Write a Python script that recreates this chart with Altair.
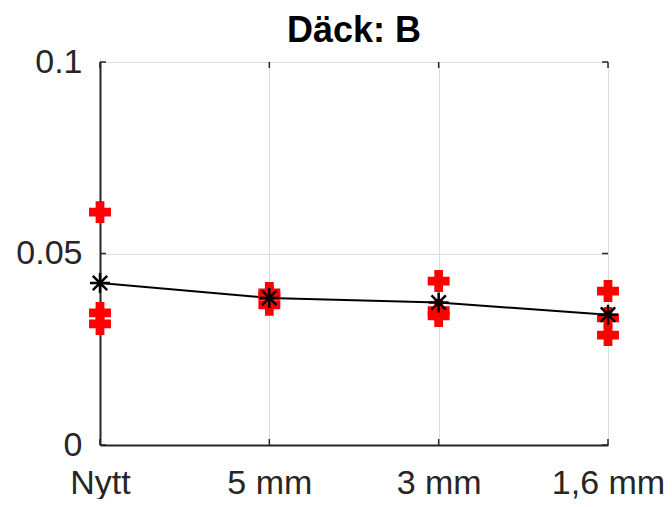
import altair as alt
import pandas as pd

categories = ["Nytt", "5 mm", "3 mm", "1,6 mm"]
cat_index = [1, 2, 3, 4]

# individual measurements (red pluses), three per category
values_nytt = [0.0608, 0.0345, 0.0316]
values_5mm = [0.0397, 0.0389, 0.0366]
values_3mm = [0.0428, 0.0351, 0.0337]
values_16mm = [0.0402, 0.0332, 0.0287]

y_ticks = [0, 0.05, 0.1]

rows = []
for idx, vals in zip(cat_index, [values_nytt, values_5mm, values_3mm, values_16mm]):
    for v in vals:
        rows.append({"x": idx, "y": v})
df = pd.DataFrame(rows)

W, H = 508, 383
FONT = "Liberation Sans"

label_expr = "datum.value == 1 ? 'Nytt' : datum.value == 2 ? '5 mm' : datum.value == 3 ? '3 mm' : '1,6 mm'"

x_scale = alt.Scale(domain=[1, 4], nice=False, zero=False)
y_scale = alt.Scale(domain=[0, 0.1], nice=False)

x_axis = alt.Axis(values=cat_index, labelExpr=label_expr, title=None, grid=True,
                  gridColor="#dedede", gridWidth=1, ticks=False, labelPadding=21,
                  labelFontSize=34, labelFont=FONT, labelColor="#262626",
                  domainColor="#262626", domainWidth=2, labelFlush=False)
y_axis = alt.Axis(values=y_ticks, format="~g", title=None, grid=True,
                  gridColor="#dedede", gridWidth=1, ticks=False, labelPadding=18,
                  labelFontSize=34, labelFont=FONT, labelColor="#262626",
                  domainColor="#262626", domainWidth=2, labelFlush=False)

base = alt.Chart(df)

points = base.mark_point(shape="cross", filled=True, color="#ff0000", size=480, opacity=1).encode(
    x=alt.X("x:Q", scale=x_scale, axis=x_axis),
    y=alt.Y("y:Q", scale=y_scale, axis=y_axis),
)

means = base.transform_aggregate(m="mean(y)", groupby=["x"])

line = means.mark_line(color="black", strokeWidth=2).encode(
    x=alt.X("x:Q", scale=x_scale),
    y=alt.Y("m:Q", scale=y_scale),
)

asterisk = "M-1,0L1,0M0,-1L0,1M-0.72,-0.72L0.72,0.72M-0.72,0.72L0.72,-0.72"
stars = means.mark_point(shape=asterisk, filled=False, color="black", strokeWidth=2.5,
                         size=400, opacity=1).encode(
    x=alt.X("x:Q", scale=x_scale),
    y=alt.Y("m:Q", scale=y_scale),
)

# inward tick marks like the reference
ytick_df = pd.DataFrame({"t": y_ticks})
xtick_df = pd.DataFrame({"t": cat_index})
yt_left = alt.Chart(ytick_df).mark_rule(color="#262626", strokeWidth=1.5).encode(
    y=alt.Y("t:Q", scale=y_scale), x=alt.value(0), x2=alt.value(6))
yt_right = alt.Chart(ytick_df).mark_rule(color="#262626", strokeWidth=1.5).encode(
    y=alt.Y("t:Q", scale=y_scale), x=alt.value(W - 6), x2=alt.value(W))
xt_bottom = alt.Chart(xtick_df).mark_rule(color="#262626", strokeWidth=1.5).encode(
    x=alt.X("t:Q", scale=x_scale), y=alt.value(H), y2=alt.value(H - 6))
xt_top = alt.Chart(xtick_df).mark_rule(color="#262626", strokeWidth=1.5).encode(
    x=alt.X("t:Q", scale=x_scale), y=alt.value(0), y2=alt.value(6))

chart = alt.layer(yt_left, yt_right, xt_bottom, xt_top, line, points, stars).properties(
    width=W, height=H,
    title=alt.TitleParams("Däck: B", fontSize=36, font=FONT, fontWeight="bold",
                          color="black", offset=16, dy=21, anchor="middle"),
    autosize=alt.AutoSizeParams(type="none"),
    padding={"left": 92, "top": 54, "right": 56, "bottom": 54},
).configure_view(stroke="#262626", strokeWidth=2).configure(background="white")

chart.save("out.html", embed_options={"renderer": "svg", "actions": False})
